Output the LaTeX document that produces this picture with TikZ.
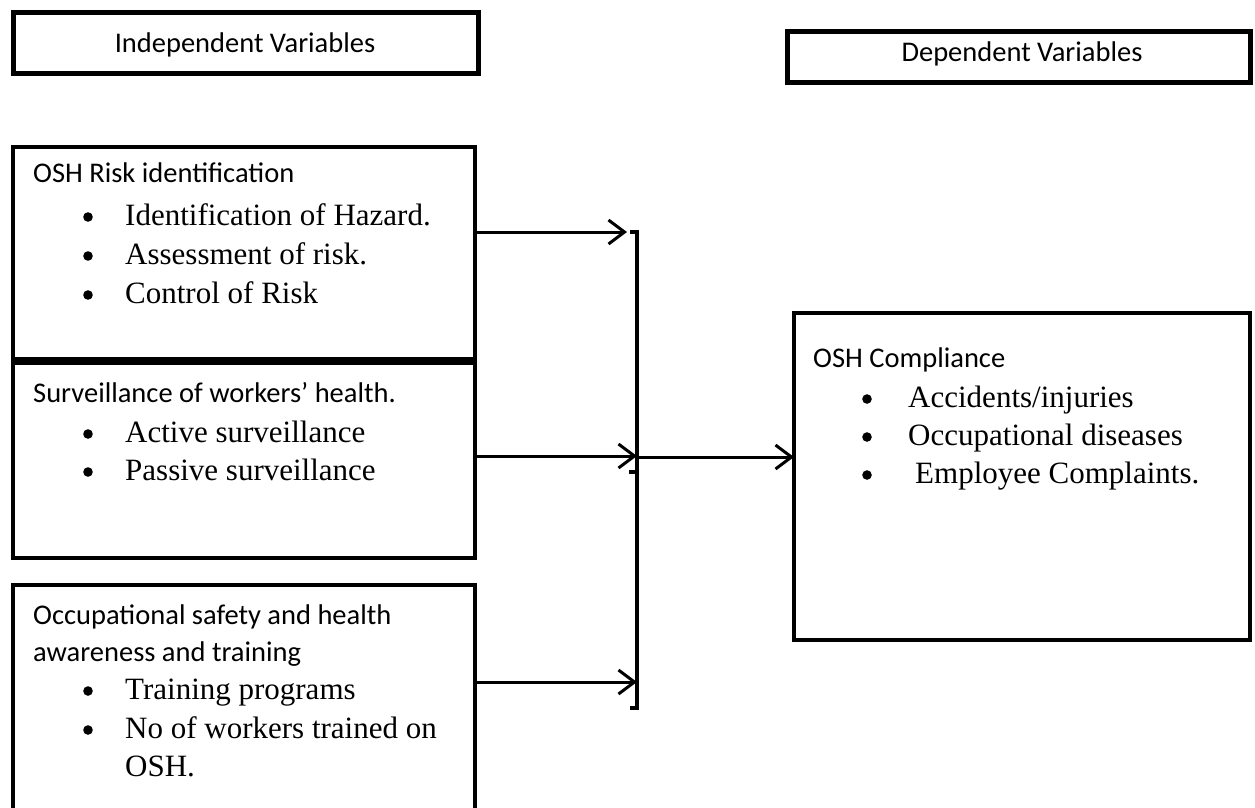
\documentclass[tikz,border=0pt]{standalone}
\usepackage{fontspec}
\setmainfont{Liberation Serif}
\newfontfamily\calfont{Carlito}
\usetikzlibrary{arrows.meta}
\begin{document}
\begin{tikzpicture}[x=1pt,y=-1pt,
  box/.style={draw, rectangle, line width=4pt, inner sep=0pt, outer sep=0pt, anchor=north west},
  headbox/.style={box, line width=5pt},
  head/.style={font=\calfont\fontsize{28.5}{34}\selectfont, anchor=base west, inner sep=0pt},
  item/.style={font=\fontsize{31}{37}\selectfont, anchor=base west, inner sep=0pt},
  bul/.style={fill=black},
  arr/.style={line width=3pt, -{Straight Barb[length=16pt,width=24pt]}},
  barline/.style={line width=3.5pt}]

\path[use as bounding box] (0,0) rectangle (1255,807);
\clip (0,0) rectangle (1255,807);
\fill[white] (0,0) rectangle (1255,807);

% column headings
\node[headbox, minimum width=465pt, minimum height=61pt] (indep) at (13,12) {};
\node[head, anchor=base] (indepT) at (245,52) {Independent Variables};
\node[headbox, minimum width=463pt, minimum height=51pt] (dep) at (787,31) {};
\node[head, anchor=base] (depT) at (1022,61) {Dependent Variables};

% independent variable boxes
\node[box, minimum width=462pt, minimum height=212pt] (risk) at (13,147) {};
\node[box, minimum width=462pt, minimum height=195pt] (surv) at (13,363) {};
\node[box, minimum width=462pt, minimum height=265pt] (train) at (13,585) {};

% dependent variable box
\node[box, minimum width=456pt, minimum height=327pt] (comp) at (794,313) {};

% bullet dots
\foreach \bx/\by in {88/217, 88/256, 88/295, 88/434, 88/472, 88/691, 88/730,
                     867/399, 867/437, 867/475}
  \fill[bul] (\bx,\by) circle (4.8pt);

% OSH risk identification
\node[head] (riskT) at (33,182) {OSH Risk identification};
\node[item] (ri1) at (125,225) {Identification of Hazard.};
\node[item] (ri2) at (125,264) {Assessment of risk.};
\node[item] (ri3) at (125,303) {Control of Risk};

% surveillance
\node[head] (survT) at (33,402) {Surveillance of workers’ health.};
\node[item] (si1) at (125,442) {Active surveillance};
\node[item] (si2) at (125,480) {Passive surveillance};

% awareness and training
\node[head] (trainT1) at (33,624) {Occupational safety and health};
\node[head] (trainT2) at (33,661) {awareness and training};
\node[item] (ti1) at (125,699) {Training programs};
\node[item] (ti2) at (125,738) {No of workers trained on};
\node[item] (ti3) at (125,776) {OSH.};

% OSH compliance
\node[head] (compT) at (813,367) {OSH Compliance};
\node[item] (ci1) at (908,407) {Accidents/injuries};
\node[item] (ci2) at (908,445) {Occupational diseases};
\node[item] (ci3) at (915,483) {Employee Complaints.};

% collecting bar
\coordinate (bt) at (637,232);
\coordinate (a2) at (637,456);
\coordinate (hub) at (637,457);
\coordinate (bm) at (636,472);
\coordinate (a3) at (637,682);
\coordinate (bb) at (637,708);
\draw[barline] ([xshift=-7pt]bt) -- (bt) -- (bb) -- ([xshift=-7pt]bb);
\draw[barline] ([xshift=-7pt]bm) -- (bm);

% connectors
\draw[arr, shorten >=10pt] (risk.east |- bt) -- (bt);
\draw[arr] (surv.east |- a2) -- (a2);
\draw[arr] (train.east |- a3) -- (a3);
\draw[arr] (hub) -- (comp.west |- hub);
\end{tikzpicture}
\end{document}
